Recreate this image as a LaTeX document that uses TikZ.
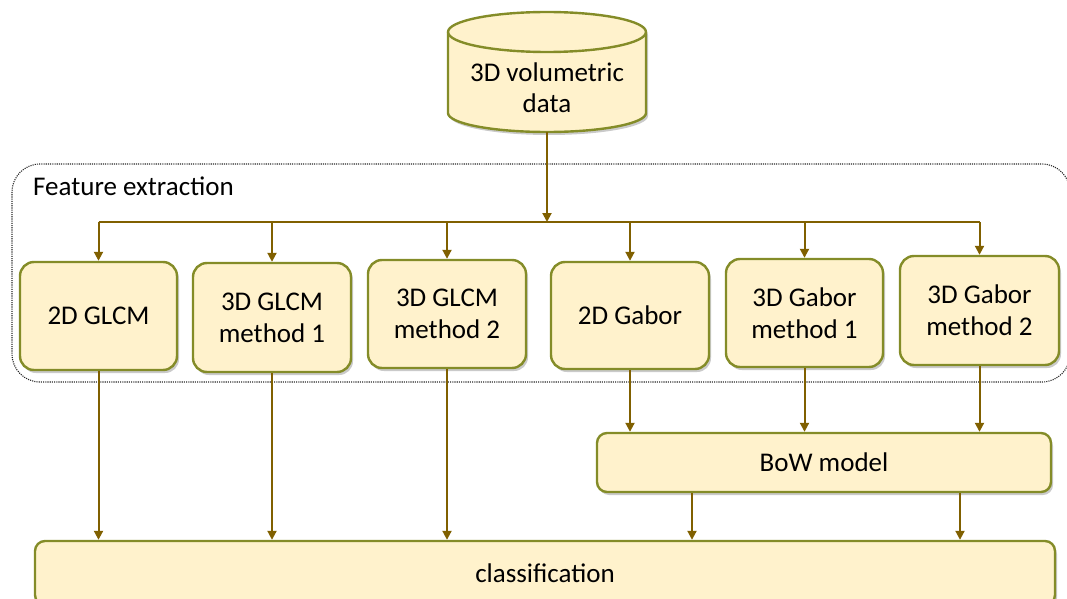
\documentclass[tikz,border=0pt]{standalone}
\usepackage{fontspec}
\setmainfont{Carlito}
\usetikzlibrary{shadows,arrows.meta,calc}
\definecolor{boxfill}{RGB}{255,242,204}
\definecolor{boxline}{RGB}{132,140,40}
\definecolor{arrcol}{RGB}{128,96,0}
\tikzset{
  shad/.style={drop shadow={shadow xshift=2pt,shadow yshift=-3pt,opacity=0.35,fill=black!60}},
  fbox/.style={draw=boxline,fill=boxfill,line width=2.4pt,rounded corners=14pt,align=center,
    font=\fontsize{27}{32}\selectfont,inner sep=0pt,shad},
  arr/.style={draw=arrcol,line width=2pt,-{Triangle[width=9pt,length=9pt]}},
  plainline/.style={draw=arrcol,line width=2pt},
  frame/.style={black!85,line width=1.1pt,dash pattern=on 1.1pt off 1.1pt,rounded corners=28pt},
}
\begin{document}
\begin{tikzpicture}[x=1pt,y=1pt]
\useasboundingbox (0,0) rectangle (1067,-599);
% feature extraction frame
\draw[frame] (12,-164) rectangle (1070,-382);
\node[anchor=west,font=\fontsize{27}{32}\selectfont,inner sep=0pt] (fe) at (33,-186) {Feature extraction};
% cylinder
\path[fill=boxfill,draw=boxline,line width=2.4pt,shad]
  (448,-32) -- (448,-113) arc[start angle=180,end angle=360,x radius=99,y radius=19]
  -- (646,-32) arc[start angle=0,end angle=180,x radius=99,y radius=20] -- cycle;
\draw[boxline,line width=2.4pt] (448,-32) arc[start angle=180,end angle=360,x radius=99,y radius=20];
\node[align=center,font=\fontsize{27}{31}\selectfont,inner sep=0pt] (cyl) at (547,-88) {3D volumetric\\data};
\coordinate (cylb) at (547,-132);
\coordinate (j) at (547,-222);
% boxes
\node[fbox,minimum width=157pt,minimum height=108pt] (b1) at (98.5,-316) {2D GLCM};
\node[fbox,minimum width=158pt,minimum height=109pt] (b2) at (272,-317.5) {3D GLCM\\method 1};
\node[fbox,minimum width=158pt,minimum height=108pt] (b3) at (447,-314) {3D GLCM\\method 2};
\node[fbox,minimum width=158pt,minimum height=107pt] (b4) at (630,-315.5) {2D Gabor};
\node[fbox,minimum width=157pt,minimum height=108pt] (b5) at (804.5,-313) {3D Gabor\\method 1};
\node[fbox,minimum width=159pt,minimum height=109pt] (b6) at (979.5,-310.5) {3D Gabor\\method 2};
\node[fbox,rounded corners=10pt,minimum width=454pt,minimum height=59pt] (bow) at (824,-462.5) {BoW model};
\node[fbox,rounded corners=10pt,minimum width=1020pt,minimum height=64pt] (cls) at (545,-573) {classification};
% connectors
\draw[arr] (cylb) -- (j);
\draw[plainline] (b1.north |- j) -- (b6.north |- j);
\foreach \b in {b1,b2,b3,b4,b5,b6} {\draw[arr] (\b.north |- j) -- (\b.north);}
\foreach \b in {b1,b2,b3} {\draw[arr] (\b.south) -- (\b.south |- cls.north);}
\foreach \b in {b4,b5,b6} {\draw[arr] (\b.south) -- (\b.south |- bow.north);}
\draw[arr] ([xshift=-132pt]bow.south) -- ([xshift=-132pt]bow.south |- cls.north);
\draw[arr] ([xshift=136pt]bow.south) -- ([xshift=136pt]bow.south |- cls.north);
\end{tikzpicture}
\end{document}
